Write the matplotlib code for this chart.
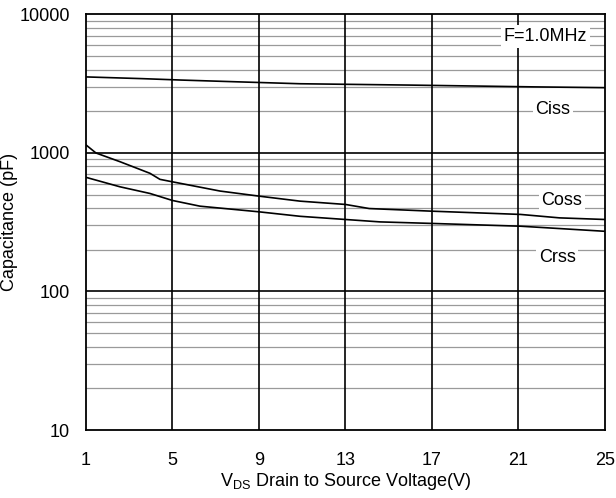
import matplotlib.pyplot as plt
from matplotlib.ticker import FixedLocator, NullFormatter

plt.rcParams['font.family'] = ['Liberation Sans', 'DejaVu Sans']

# values (V, pF)
v_ciss = [1, 3.6, 5.4, 7.8, 10.9, 16, 21.7, 25]
ciss = [3540, 3440, 3360, 3270, 3160, 3090, 3000, 2960]

v_coss = [1, 1.46, 2.57, 3.96, 4.42, 5.0, 7.2, 9.0, 10.9, 13.0, 14.1, 17.0, 21.1, 22.9, 25]
coss = [1143, 1000, 865, 713, 645, 619, 531, 488, 449, 425, 397, 380, 360, 340, 331]

v_crss = [1, 2.57, 3.96, 5.0, 6.27, 9.0, 10.9, 13.0, 14.6, 17.0, 21.1, 25]
crss = [667, 570, 510, 454, 413, 376, 349, 331, 318, 310, 296, 272]

xticks = [1, 5, 9, 13, 17, 21, 25]
yticks = [10, 100, 1000, 10000]

fig = plt.figure(figsize=(6.16, 4.98), dpi=100)
ax = fig.add_axes([0.1396, 0.1365, 0.8424, 0.8345])

ax.set_yscale('log')
ax.set_xlim(1, 25)
ax.set_ylim(10, 10000)

# grid
minors = [m * d for d in (10, 100, 1000) for m in range(2, 10)]
for y in minors:
    ax.axhline(y, color='#9a9a9a', lw=0.9, zorder=1)
for y in (100, 1000):
    ax.axhline(y, color='black', lw=1.2, zorder=2)
for x in xticks[1:-1]:
    ax.axvline(x, color='black', lw=1.2, zorder=2)

ax.plot(v_ciss, ciss, color='black', lw=1.2, zorder=3)
ax.plot(v_coss, coss, color='black', lw=1.2, zorder=3)
ax.plot(v_crss, crss, color='black', lw=1.2, zorder=3)

ax.set_xticks(xticks)
ax.set_xticklabels([str(t) for t in xticks])
ax.yaxis.set_major_locator(FixedLocator(yticks))
ax.set_yticklabels([str(t) for t in yticks])
ax.yaxis.set_minor_locator(FixedLocator(minors))
ax.yaxis.set_minor_formatter(NullFormatter())
ax.tick_params(which='both', length=0, labelsize=13)
ax.tick_params(axis='x', pad=16)
ax.tick_params(axis='y', pad=11.5)

for s in ax.spines.values():
    s.set_linewidth(1.3)

box = dict(facecolor='white', edgecolor='none', pad=2)
ax.text(22.25, 6930, 'F=1.0MHz', fontsize=13, ha='center', va='center', bbox=box, zorder=5)
ax.text(22.6, 2050, 'Ciss', fontsize=13, ha='center', va='center', bbox=box, zorder=5)
ax.text(23.0, 456, 'Coss', fontsize=13, ha='center', va='center', bbox=box, zorder=5)
ax.text(22.8, 176, 'Crss', fontsize=13, ha='center', va='center', bbox=box, zorder=5)

ax.set_ylabel('Capacitance (pF)', fontsize=13)
ax.yaxis.set_label_coords(-0.131, 0.5)
ax.set_xlabel('V$_{\\mathregular{DS}}$ Drain to Source Voltage(V)', fontsize=13, labelpad=1)

fig.savefig('out.png', dpi=100)
